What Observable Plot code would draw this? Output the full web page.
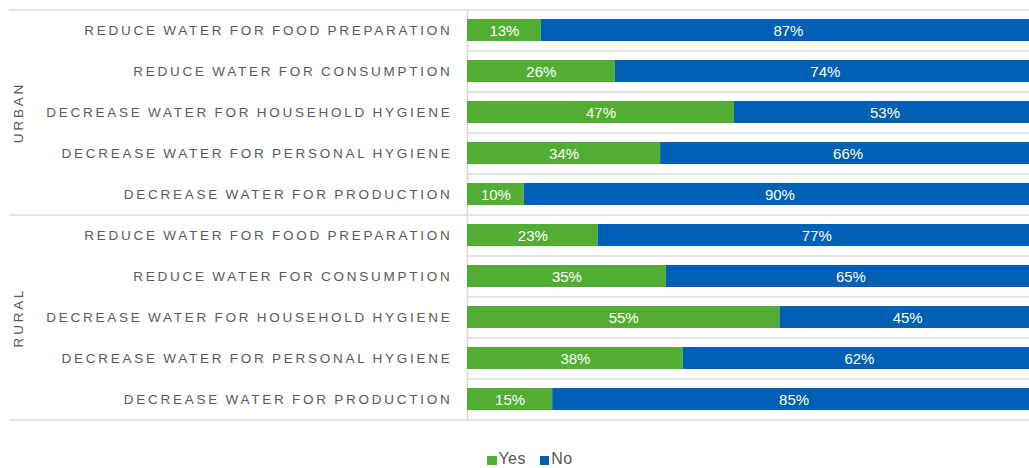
<!DOCTYPE html>
<html>
<head>
<meta charset="utf-8">
<script src="https://cdn.jsdelivr.net/npm/d3@7"></script>
<script src="https://cdn.jsdelivr.net/npm/@observablehq/plot@0.6"></script>
<style>
  html, body { margin: 0; padding: 0; background: #fff; }
  #chart { position: relative; width: 1029px; height: 468px; font-family: "Liberation Sans", Arial, sans-serif; }
  #chart svg { display: block; }
  .legend { position: absolute; left: 487px; top: 450px; display: flex; align-items: center; font-size: 16px; line-height: 18px; letter-spacing: 0.4px; color: #595959; }
  .legend .sw { width: 9.5px; height: 9px; display: inline-block; margin-right: 2px; margin-top: 3px; }
  .legend .item { display: flex; align-items: center; margin-right: 14px; }
</style>
</head>
<body>
<div id="chart"></div>
<script>
const groups = ["URBAN", "RURAL"];
const categories = [
  "REDUCE WATER FOR FOOD PREPARATION",
  "REDUCE WATER FOR CONSUMPTION",
  "DECREASE WATER FOR HOUSEHOLD HYGIENE",
  "DECREASE WATER FOR PERSONAL HYGIENE",
  "DECREASE WATER FOR PRODUCTION"
];
const answers = ["Yes", "No"];
const urbanYes = [13, 26, 47, 34, 10];
const urbanNo  = [87, 74, 53, 66, 90];
const ruralYes = [23, 35, 55, 38, 15];
const ruralNo  = [77, 65, 45, 62, 85];
const colors = ["#52AE32", "#0060B5"];

const yesByGroup = {URBAN: urbanYes, RURAL: ruralYes};
const noByGroup = {URBAN: urbanNo, RURAL: ruralNo};

const rows = [];
const data = [];
for (const g of groups) {
  categories.forEach((c, i) => {
    const key = g + "|" + c;
    rows.push({group: g, category: c, key, first: i === 0, middle: i === 2});
    data.push({key, answer: "Yes", value: yesByGroup[g][i]});
    data.push({key, answer: "No", value: noByGroup[g][i]});
  });
}
const keys = rows.map(r => r.key);

const plot = Plot.plot({
  width: 1029,
  height: 430,
  marginTop: 10,
  marginBottom: 10,
  marginLeft: 9,
  marginRight: 0,
  x: {domain: [0, 100], range: [467, 1035], axis: null},
  y: {domain: keys, range: [10, 420], paddingInner: 0.455, paddingOuter: 0.2275, axis: null},
  color: {domain: answers, range: colors},
  style: {fontFamily: "Liberation Sans, Arial, sans-serif", background: "transparent"},
  marks: [
    Plot.ruleY(rows.filter(r => !r.first), {y: "key", dy: -20.5, x1: 0, x2: 100, stroke: "#D9D9D9", strokeWidth: 1.5}),
    Plot.ruleY(rows.filter(r => r.first), {y: "key", dy: -20.5, stroke: "#D9D9D9", strokeWidth: 1.5}),
    Plot.ruleY(rows.slice(-1), {y: "key", dy: 20.5, stroke: "#D9D9D9", strokeWidth: 1.5}),
    Plot.ruleX([0], {stroke: "#D9D9D9", strokeWidth: 1.5}),
    Plot.barX(data, Plot.stackX({x: "value", y: "key", fill: "answer", order: answers, z: "answer"})),
    Plot.text(data, Plot.stackX({x: "value", y: "key", z: "answer", order: answers, text: d => d.value + "%", fill: "white", fontSize: 15, dy: 1})),
    Plot.text(rows, {x: 0, y: "key", text: "category", textAnchor: "end", dx: -15, fill: "#595959", fontSize: 13.5, className: "cat-label"}),
    Plot.text(rows.filter(r => r.middle), {y: "key", frameAnchor: "left", textAnchor: "middle", dx: 9, rotate: -90, text: "group", fill: "#595959", fontSize: 13.5, className: "grp-label"})
  ]
});

d3.select(plot).selectAll(".cat-label text").style("letter-spacing", "2.75px").style("word-spacing", "-1px");
d3.select(plot).selectAll(".grp-label text").style("letter-spacing", "2.8px");

const chart = document.getElementById("chart");
chart.appendChild(plot);
const legend = document.createElement("div");
legend.className = "legend";
answers.forEach((a, i) => {
  const item = document.createElement("span");
  item.className = "item";
  const sw = document.createElement("span");
  sw.className = "sw";
  sw.style.background = colors[i];
  item.appendChild(sw);
  item.appendChild(document.createTextNode(a));
  legend.appendChild(item);
});
chart.appendChild(legend);
</script>
</body>
</html>
